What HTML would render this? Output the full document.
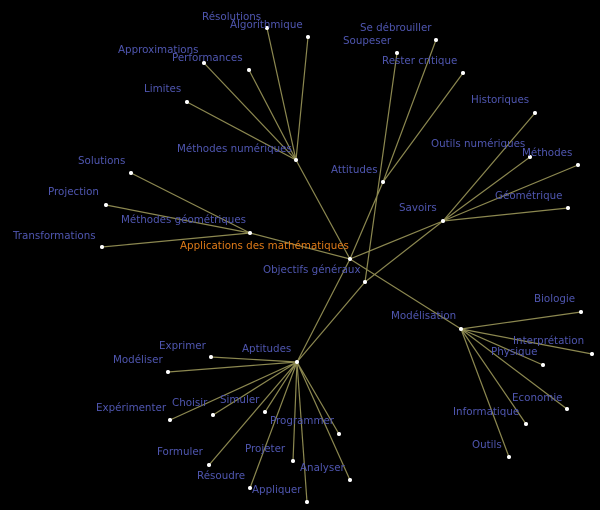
<!DOCTYPE html>
<html><head><meta charset="utf-8"><style>
html,body{margin:0;padding:0;background:#000;}
svg{display:block}
text{font-family:"DejaVu Sans","Liberation Sans",sans-serif;font-size:10.3px;fill:#4f56b0;}
line{stroke:#8c8850;stroke-width:1.2}
circle{fill:#fff}
</style></head><body>
<svg width="600" height="510" viewBox="0 0 600 510">
<g>
<line x1="350" y1="259" x2="296" y2="160"/>
<line x1="350" y1="259" x2="250" y2="233"/>
<line x1="350" y1="259" x2="383" y2="182"/>
<line x1="350" y1="259" x2="297" y2="362"/>
<line x1="350" y1="259" x2="443" y2="221"/>
<line x1="350" y1="259" x2="461" y2="329"/>
<line x1="365" y1="282" x2="397" y2="53"/>
<line x1="365" y1="282" x2="297" y2="362"/>
<line x1="365" y1="282" x2="443" y2="221"/>
<line x1="296" y1="160" x2="267" y2="28"/>
<line x1="296" y1="160" x2="308" y2="37"/>
<line x1="296" y1="160" x2="204" y2="63"/>
<line x1="296" y1="160" x2="249" y2="70"/>
<line x1="296" y1="160" x2="187" y2="102"/>
<line x1="383" y1="182" x2="436" y2="40"/>
<line x1="383" y1="182" x2="463" y2="73"/>
<line x1="443" y1="221" x2="535" y2="113"/>
<line x1="443" y1="221" x2="530" y2="157"/>
<line x1="443" y1="221" x2="578" y2="165"/>
<line x1="443" y1="221" x2="568" y2="208"/>
<line x1="250" y1="233" x2="131" y2="173"/>
<line x1="250" y1="233" x2="106" y2="205"/>
<line x1="250" y1="233" x2="102" y2="247"/>
<line x1="461" y1="329" x2="581" y2="312"/>
<line x1="461" y1="329" x2="592" y2="354"/>
<line x1="461" y1="329" x2="543" y2="365"/>
<line x1="461" y1="329" x2="567" y2="409"/>
<line x1="461" y1="329" x2="526" y2="424"/>
<line x1="461" y1="329" x2="509" y2="457"/>
<line x1="297" y1="362" x2="211" y2="357"/>
<line x1="297" y1="362" x2="168" y2="372"/>
<line x1="297" y1="362" x2="170" y2="420"/>
<line x1="297" y1="362" x2="213" y2="415"/>
<line x1="297" y1="362" x2="265" y2="412"/>
<line x1="297" y1="362" x2="339" y2="434"/>
<line x1="297" y1="362" x2="209" y2="465"/>
<line x1="297" y1="362" x2="293" y2="461"/>
<line x1="297" y1="362" x2="350" y2="480"/>
<line x1="297" y1="362" x2="250" y2="488"/>
<line x1="297" y1="362" x2="307" y2="502"/>
</g>
<g>
<circle cx="350" cy="259" r="2"/><circle cx="365" cy="282" r="2"/>
<circle cx="296" cy="160" r="2"/><circle cx="250" cy="233" r="2"/>
<circle cx="383" cy="182" r="2"/><circle cx="443" cy="221" r="2"/>
<circle cx="461" cy="329" r="2"/><circle cx="297" cy="362" r="2"/>
<circle cx="267" cy="28" r="2"/><circle cx="308" cy="37" r="2"/>
<circle cx="204" cy="63" r="2"/><circle cx="249" cy="70" r="2"/>
<circle cx="187" cy="102" r="2"/><circle cx="397" cy="53" r="2"/>
<circle cx="436" cy="40" r="2"/><circle cx="463" cy="73" r="2"/>
<circle cx="535" cy="113" r="2"/><circle cx="530" cy="157" r="2"/>
<circle cx="578" cy="165" r="2"/><circle cx="568" cy="208" r="2"/>
<circle cx="131" cy="173" r="2"/><circle cx="106" cy="205" r="2"/>
<circle cx="102" cy="247" r="2"/><circle cx="581" cy="312" r="2"/>
<circle cx="592" cy="354" r="2"/><circle cx="543" cy="365" r="2"/>
<circle cx="567" cy="409" r="2"/><circle cx="526" cy="424" r="2"/>
<circle cx="509" cy="457" r="2"/><circle cx="211" cy="357" r="2"/>
<circle cx="168" cy="372" r="2"/><circle cx="170" cy="420" r="2"/>
<circle cx="213" cy="415" r="2"/><circle cx="265" cy="412" r="2"/>
<circle cx="339" cy="434" r="2"/><circle cx="209" cy="465" r="2"/>
<circle cx="293" cy="461" r="2"/><circle cx="350" cy="480" r="2"/>
<circle cx="250" cy="488" r="2"/><circle cx="307" cy="502" r="2"/>
</g>
<g>
<text x="202" y="20">Résolutions</text>
<text x="230" y="28">Algorithmique</text>
<text x="118" y="53">Approximations</text>
<text x="172" y="61">Performances</text>
<text x="144" y="92">Limites</text>
<text x="177" y="152">Méthodes numériques</text>
<text x="360" y="31">Se débrouiller</text>
<text x="343" y="44">Soupeser</text>
<text x="382" y="64">Rester critique</text>
<text x="471" y="103">Historiques</text>
<text x="431" y="147">Outils numériques</text>
<text x="522" y="156">Méthodes</text>
<text x="495" y="199">Géométrique</text>
<text x="331" y="173">Attitudes</text>
<text x="399" y="211">Savoirs</text>
<text x="78" y="164">Solutions</text>
<text x="48" y="195">Projection</text>
<text x="13" y="239">Transformations</text>
<text x="121" y="223">Méthodes géométriques</text>
<text x="180" y="249" style="fill:#e07b18">Applications des mathématiques</text>
<text x="263" y="273">Objectifs généraux</text>
<text x="391" y="319">Modélisation</text>
<text x="534" y="302">Biologie</text>
<text x="513" y="344">Interprétation</text>
<text x="491" y="355">Physique</text>
<text x="512" y="401">Economie</text>
<text x="453" y="415">Informatique</text>
<text x="472" y="448">Outils</text>
<text x="242" y="352">Aptitudes</text>
<text x="159" y="349">Exprimer</text>
<text x="113" y="363">Modéliser</text>
<text x="96" y="411">Expérimenter</text>
<text x="172" y="406">Choisir</text>
<text x="220" y="403">Simuler</text>
<text x="270" y="424">Programmer</text>
<text x="157" y="455">Formuler</text>
<text x="245" y="452">Projeter</text>
<text x="300" y="471">Analyser</text>
<text x="197" y="479">Résoudre</text>
<text x="252" y="493">Appliquer</text>
</g>
</svg>
</body></html>
